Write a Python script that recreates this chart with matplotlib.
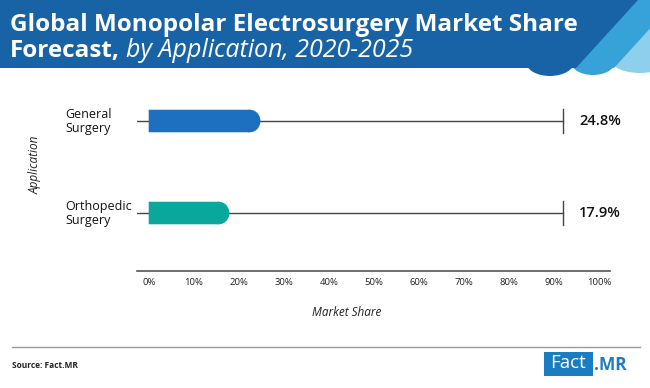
import matplotlib
matplotlib.use("Agg")
import matplotlib.pyplot as plt
from matplotlib.patches import Polygon, Rectangle, Ellipse

categories = ["General\nSurgery", "Orthopedic\nSurgery"]
values = [24.8, 17.9]
value_labels = ["24.8%", "17.9%"]
bar_colors = ["#1d6fbf", "#0aa79c"]
ticks = [0, 10, 20, 30, 40, 50, 60, 70, 80, 90, 100]
tick_labels = [f"{t}%" for t in ticks]
track_end = 92.0

W, H = 650, 388
fig = plt.figure(figsize=(W / 100, H / 100), dpi=100)
fig.patch.set_facecolor("white")

# decoration layer in pixel coordinates
bg = fig.add_axes([0, 0, 1, 1])
bg.set_xlim(0, W)
bg.set_ylim(H, 0)
bg.axis("off")

dark = "#1763a6"
mid = "#36a2d8"
light = "#8dcfec"
bg.add_patch(Polygon([(600, 0), (700, 0), (700, 66), (600, 66)], closed=True, color=light, lw=0))
bg.add_patch(Ellipse((640, 61), 56, 24, color=light, lw=0))
bg.add_patch(Polygon([(560, 0), (676, 0), (614, 68), (560, 68)], closed=True, color=mid, lw=0))
bg.add_patch(Ellipse((593, 62), 44, 26, color=mid, lw=0))
bg.add_patch(Polygon([(0, 0), (638, 0), (576, 68), (0, 68)], closed=True, color=dark, lw=0))
bg.add_patch(Ellipse((550, 62), 48, 28, color=dark, lw=0))

title_font = "Open Sans"
bg.text(10, 31, "Global Monopolar Electrosurgery Market Share", color="white",
        fontsize=17.5, fontweight="bold", family=title_font, va="baseline", ha="left")
t2 = bg.text(10, 57, "Forecast,", color="white", fontsize=17.5, fontweight="bold",
             family=title_font, va="baseline", ha="left")
fig.canvas.draw()
r = fig.canvas.get_renderer()
bb = t2.get_window_extent(renderer=r)
bg.text(bb.x1 + 6, 57, "by Application, 2020-2025", color="white", fontsize=18,
        style="italic", family=title_font, va="baseline", ha="left")

# separator and footer
bg.plot([12, 640], [347, 347], color="#999999", lw=1)
bg.text(12, 366, "Source: Fact.MR", fontsize=6, family="Open Sans", fontweight="bold",
        color="#222222", va="center", ha="left")
bg.add_patch(Rectangle((544, 352), 49, 24, color="#1a7dc2", lw=0))
bg.text(568.5, 363.5, "Fact", fontsize=13.5, family="Open Sans", color="white",
        va="center", ha="center")
bg.text(594, 364.5, ".MR", fontsize=12.5, family="Open Sans", fontweight="bold",
        color="#1a7dc2", va="center", ha="left")

# main chart axes
left_px, right_px = 137, 610
top_px, bottom_px = 90, 271
xmin, xmax = -2.6, 102.4
ymin, ymax = -0.63, 1.337
ax = fig.add_axes([left_px / W, 1 - bottom_px / H, (right_px - left_px) / W,
                   (bottom_px - top_px) / H])
ax.set_xlim(xmin, xmax)
ax.set_ylim(ymin, ymax)
ax.patch.set_alpha(0)
for s in ["top", "right", "left"]:
    ax.spines[s].set_visible(False)
ax.spines["bottom"].set_color("#555555")
ax.spines["bottom"].set_linewidth(1.2)

ypos = [1, 0]
bar_h = 0.245
px_per_unit_x = (right_px - left_px) / (xmax - xmin)
rx = 10.5 / px_per_unit_x

for y, v, c, lab in zip(ypos, values, bar_colors, value_labels):
    ax.plot([xmin, track_end], [y, y], color="#444444", lw=1, zorder=1)
    ax.plot([track_end, track_end], [y - 0.13, y + 0.13], color="#444444", lw=1, zorder=1)
    bars = ax.barh(y, v - rx, height=bar_h, left=0, color=c, lw=0, zorder=2)
    for b in bars:
        b.set_snap(False)
    ax.add_patch(Ellipse((v - rx, y), 2 * rx, bar_h, color=c, lw=0, zorder=2))
    ax.text(track_end + 3.6, y, lab, fontsize=10.5, family="Open Sans", color="#111111",
            va="center", ha="left", fontweight="semibold")

ax.set_yticks([])
for y, cat in zip(ypos, categories):
    ax.text(xmin - (left_px - 65) / px_per_unit_x, y, cat, fontsize=9, family="Open Sans",
            color="#111111", va="center", ha="left", linespacing=1.1)

ax.set_xticks(ticks)
ax.set_xticklabels(tick_labels, fontsize=6.8, family="Open Sans", color="#222222")
ax.tick_params(axis="x", length=0, pad=5)

fig.text(347 / W, 1 - 313 / H, "Market Share", fontsize=8.5, family="Open Sans",
         style="italic", color="#222222", va="center", ha="center")
fig.text(35 / W, 1 - 165 / H, "Application", rotation=90, fontsize=8.5, family="Open Sans",
         style="italic", color="#222222", va="center", ha="center")

fig.savefig("out.png", dpi=100)
